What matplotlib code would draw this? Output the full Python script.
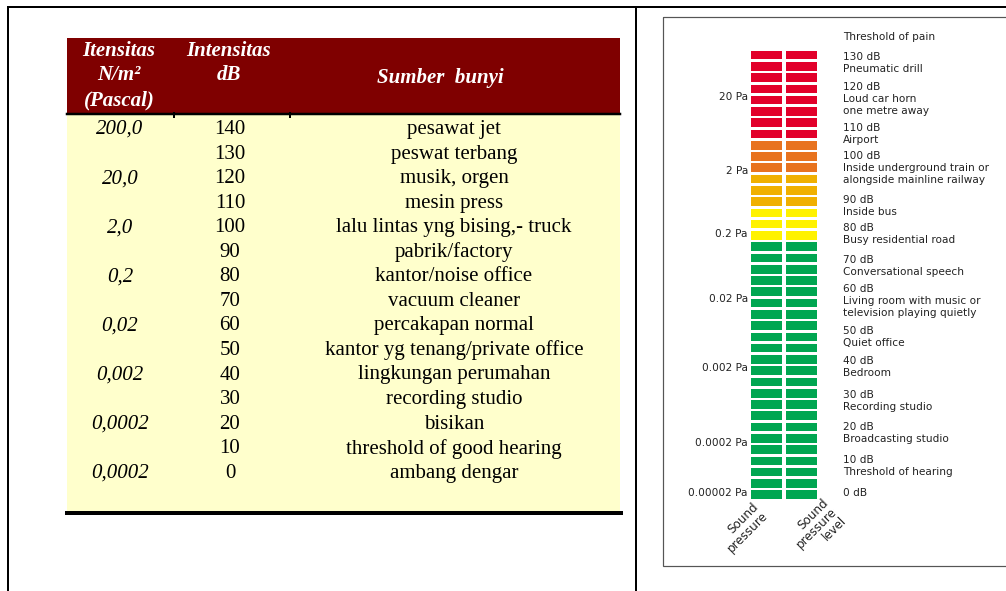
import numpy as np
import matplotlib.pyplot as plt
from matplotlib.patches import Rectangle

# Left table data
pascal = ['200,0', '', '20,0', '', '2,0', '', '0,2', '', '0,02', '', '0,002', '',
          '0,0002', '', '0,0002']
decibel = [140, 130, 120, 110, 100, 90, 80, 70, 60, 50, 40, 30, 20, 10, 0]
sumber = ['pesawat jet', 'peswat terbang', 'musik, orgen', 'mesin press',
          'lalu lintas yng bising,- truck', 'pabrik/factory', 'kantor/noise office',
          'vacuum cleaner', 'percakapan normal', 'kantor yg tenang/private office',
          'lingkungan perumahan', 'recording studio', 'bisikan',
          'threshold of good hearing', 'ambang dengar']

# Right meter data (segments counted bottom to top)
seg_counts = [23, 3, 3, 3, 8]
seg_colors = ['#00A651', '#FFF200', '#F0B000', '#E8731F', '#E2002B']
pa_labels = ['20 Pa', '2 Pa', '0.2 Pa', '0.02 Pa', '0.002 Pa', '0.0002 Pa', '0.00002 Pa']
level_db = [130, 120, 110, 100, 90, 80, 70, 60, 50, 40, 30, 20, 10, 0]
level_desc = [['Pneumatic drill'], ['Loud car horn', 'one metre away'], ['Airport'],
              ['Inside underground train or', 'alongside mainline railway'],
              ['Inside bus'], ['Busy residential road'], ['Conversational speech'],
              ['Living room with music or', 'television playing quietly'],
              ['Quiet office'], ['Bedroom'], ['Recording studio'],
              ['Broadcasting studio'], ['Threshold of hearing'], []]

# layout (pixel rows)
pa_y = [97, 171, 234, 299, 368, 443, 493]
level_y = [57, 87, 128, 156, 200, 228, 260, 289, 331, 361, 395, 427, 460, 493]

W, H = 1006, 591
fig = plt.figure(figsize=(W / 100, H / 100), dpi=100)
ax = fig.add_axes([0, 0, 1, 1])
ax.set_xlim(0, W)
ax.set_ylim(H, 0)
ax.axis('off')

px = 0.72  # one pixel in points

# outer frame lines
ax.plot([8, W], [7, 7], color='black', lw=2 * px)
ax.plot([8, 8], [7, H], color='black', lw=2 * px)
ax.plot([636, 636], [7, H], color='black', lw=2 * px)

# ---- table ----
serif = 'Liberation Serif'
ax.add_patch(Rectangle((67, 38), 553, 75, facecolor='#7F0000', edgecolor='none'))
ax.add_patch(Rectangle((67, 113), 553, 398, facecolor='#FFFFCC', edgecolor='none'))
ax.plot([67, 620], [113.5, 113.5], color='black', lw=2.5 * px)
ax.plot([67, 621], [513, 513], color='black', lw=4 * px)
for xd in [174, 290]:
    ax.plot([xd, xd], [113, 117], color='black', lw=2 * px)

hdr = dict(color='white', family=serif, fontsize=15, fontweight='bold',
           fontstyle='italic', ha='center', va='center')
ax.text(119, 51, 'Itensitas', **hdr)
ax.text(119, 75, 'N/m²', **hdr)
ax.text(119, 100, '(Pascal)', **hdr)
ax.text(229, 51, 'Intensitas', **hdr)
ax.text(229, 75, 'dB', **hdr)
ax.text(440, 78, 'Sumber  bunyi', **hdr)

row0, pitch = 129.5, 24.55
for i, (p, d, s) in enumerate(zip(pascal, decibel, sumber)):
    y = row0 + i * pitch
    if p:
        ax.text(120, y, p, family=serif, fontsize=15, fontstyle='italic',
                ha='center', va='center')
    ax.text(230, y, str(d), family=serif, fontsize=15, ha='center', va='center')
    ax.text(454, y, s, family=serif, fontsize=15, ha='center', va='center')

# ---- meter picture ----
ax.add_patch(Rectangle((663, 16.5), 360, 549.5, facecolor='none',
                       edgecolor='#555555', lw=1.2 * px))

colors = np.repeat(seg_colors, seg_counts)
n = len(colors)
top_px, bot_px = 50.7, 499
gap = 0.23
p_px = (bot_px - top_px) / (n - gap)
ax_top = top_px - gap / 2 * p_px
ax_bot = bot_px + gap / 2 * p_px
mx = fig.add_axes([749 / W, 1 - ax_bot / H, 70 / W, (ax_bot - ax_top) / H])
mx.set_xlim(-0.5, 1.5)
mx.set_ylim(0, n)
mx.axis('off')
for col in [0, 1]:
    mx.bar(np.full(n, col), 1 - gap, bottom=np.arange(n) + gap / 2,
           width=0.9, color=colors, edgecolor='none')

sans = dict(family='DejaVu Sans', fontsize=7.6, color='#222222', va='center')
for lab, y in zip(pa_labels, pa_y):
    ax.text(748, y, lab, ha='right', **sans)

ax.text(843, 37, 'Threshold of pain', ha='left', **sans)
for dbv, desc, y in zip(level_db, level_desc, level_y):
    ax.text(843, y, f'{dbv} dB', ha='left', **sans)
    for k, line in enumerate(desc):
        ax.text(843, y + 12 * (k + 1), line, ha='left', **sans)

rot = dict(family='DejaVu Sans', fontsize=8.6, color='#222222', rotation=45,
           ha='center', va='center', multialignment='right', linespacing=0.95)
ax.text(743, 528, 'Sound\npressure', **rot)
ax.text(817, 528, 'Sound\npressure\nlevel', **rot)

fig.savefig('out.png', dpi=100)
